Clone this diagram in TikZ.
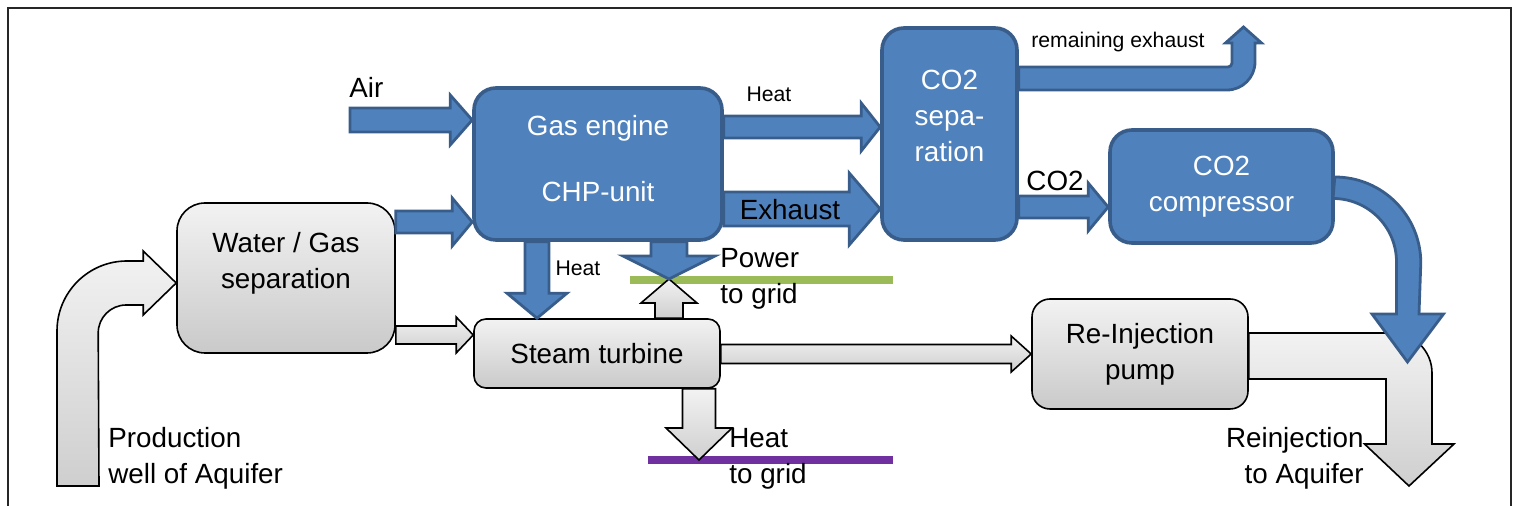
\documentclass[tikz,border=0pt]{standalone}
\usepackage{fontspec}
\setmainfont{Liberation Sans}
\usetikzlibrary{calc}
\definecolor{boxblue}{HTML}{4F81BD}
\definecolor{edgeblue}{HTML}{385D8A}
\definecolor{powergreen}{HTML}{9BBB59}
\definecolor{heatpurple}{HTML}{7030A0}
\newcommand{\mainsize}{\fontsize{13.9}{18}\selectfont}
\newcommand{\labelsize}{\fontsize{10.6}{13}\selectfont}
% block arrows: style, start, tip, half shaft, half head, head length
\newcommand{\rblock}[6]{%
  \path[#1] ($#2+(0,-#4)$) -- ($#3+(-#6,-#4)$) -- ($#3+(-#6,-#5)$) -- #3
    -- ($#3+(-#6,#5)$) -- ($#3+(-#6,#4)$) -- ($#2+(0,#4)$) -- cycle;}
\newcommand{\dblock}[6]{%
  \path[#1] ($#2+(-#4,0)$) -- ($#3+(-#4,-#6)$) -- ($#3+(-#5,-#6)$) -- #3
    -- ($#3+(#5,-#6)$) -- ($#3+(#4,-#6)$) -- ($#2+(#4,0)$) -- cycle;}
\newcommand{\ublock}[6]{%
  \path[#1] ($#2+(-#4,0)$) -- ($#3+(-#4,#6)$) -- ($#3+(-#5,#6)$) -- #3
    -- ($#3+(#5,#6)$) -- ($#3+(#4,#6)$) -- ($#2+(#4,0)$) -- cycle;}
\tikzset{
  bluebox/.style={draw=edgeblue, fill=boxblue, line width=1.8pt, rounded corners=11pt,
    text=white, align=center, font=\mainsize, inner sep=0pt},
  graybox/.style={draw=black, line width=0.8pt, top color=gray!10, bottom color=gray!42,
    rounded corners=12pt, align=center, font=\mainsize, inner sep=0pt},
  bluearrow/.style={draw=edgeblue, fill=boxblue, line width=1.4pt},
  grayarrow/.style={draw=black, line width=0.8pt, top color=gray!10, bottom color=gray!38},
  gridline/.style={line width=4pt},
  txt/.style={font=\mainsize, align=left, inner sep=0pt},
  smalltxt/.style={font=\labelsize, inner sep=0pt},
}
\begin{document}
\begin{tikzpicture}[x=0.5pt, y=-0.5pt]
  \useasboundingbox (0,0) rectangle (1516,506);
  \draw[line width=1pt, black!85] (8,506) -- (8,8) -- (1511,8) -- (1511,506);

  % units
  \node[bluebox, minimum width=124pt, minimum height=76pt] (gas) at (598,164) {Gas engine\\[15pt]CHP-unit\\[-12.5pt]~};
  \node[bluebox, minimum width=67.5pt, minimum height=106pt] (co2sep) at (949.5,134) {CO2\\sepa-\\ration\\~};
  \node[bluebox, minimum width=111.5pt, minimum height=56.5pt] (comp) at (1221.5,186.5) {CO2\\compressor};
  \node[graybox, minimum width=109pt, minimum height=75pt, rounded corners=14pt] (wgsep) at (286,278) {Water / Gas\\separation\\~};
  \node[graybox, minimum width=123pt, minimum height=34.5pt, rounded corners=6pt] (turb) at (597,353.5) {Steam turbine};
  \node[graybox, minimum width=108pt, minimum height=55pt, rounded corners=9pt] (pump) at (1140,354) {Re-Injection\\pump};

  % lanes
  \coordinate (air) at (350,120);
  \coordinate (fuel) at (0,222);
  \coordinate (heat) at (0,127);
  \coordinate (exh) at (0,209);
  \coordinate (co2) at (0,207);
  \coordinate (exit) at (0,78.5);
  \coordinate (co2out) at (0,188.5);
  \coordinate (steam) at (0,335);
  \coordinate (brine) at (0,354);
  \coordinate (prodin) at (0,283);
  \coordinate (pumpout) at (0,356);
  \coordinate (heatlane) at (537,0);
  \coordinate (power) at (669,279);
  \coordinate (heatgrid) at (699,460);
  \coordinate (prodwell) at (78,486);
  \coordinate (reinj) at (1409,486);
  \coordinate (stack) at (1243.5,27);
  \coordinate (co2inj) at (1407.5,362);

  % grid lines
  \coordinate (pg1) at (630,280);
  \coordinate (pg2) at (893,280);
  \coordinate (hg1) at (648,460);
  \coordinate (hg2) at (893,460);
  \draw[gridline, powergreen] (pg1) -- (pg2);
  \draw[gridline, heatpurple] (hg1) -- (hg2);

  % water side
  \path[grayarrow] ($(prodwell)+(-21,0)$) -- ++(0,-155) arc[start angle=180, end angle=270, radius=70]
    -- ($(wgsep.west |- prodin)+(-33,-22)$) -- ++(0,-10) -- (wgsep.west |- prodin) -- ++(-33,32)
    -- ++(0,-10) -- ++(-17,0) arc[start angle=270, end angle=180, radius=28]
    -- ($(prodwell)+(21,0)$) -- cycle;
  \rblock{grayarrow}{(wgsep.east |- steam)}{(turb.west |- steam)}{9}{18}{17}
  \rblock{grayarrow}{(turb.east |- brine)}{(pump.west |- brine)}{9.5}{18}{20}
  \path[grayarrow] ($(pump.east |- pumpout)+(0,-23)$) -- ($(reinj |- pumpout)+(-17,-23)$)
    arc[start angle=-90, end angle=0, radius=40] -- ($(reinj)+(23,-42)$) -- ++(22,0) -- (reinj)
    -- ++(-44.5,-42) -- ++(21.5,0) |- ($(pump.east |- pumpout)+(0,23)$) -- cycle;
  \ublock{grayarrow}{(turb.north -| power)}{(power)}{14}{28}{24}
  \dblock{grayarrow}{(turb.south -| heatgrid)}{(heatgrid)}{16.5}{33}{32}

  % gas side
  \rblock{bluearrow}{(air)}{(gas.west |- air)}{12}{25}{22}
  \rblock{bluearrow}{(wgsep.east |- fuel)}{(gas.west |- fuel)}{11}{24}{20}
  \rblock{bluearrow}{(gas.east |- heat)}{(co2sep.west |- heat)}{11}{24}{19}
  \rblock{bluearrow}{(gas.east |- exh)}{(co2sep.west |- exh)}{17}{36}{31}
  \rblock{bluearrow}{(co2sep.east |- co2)}{(comp.west |- co2)}{11}{24}{20}
  \dblock{bluearrow}{(gas.south -| heatlane)}{(turb.north -| heatlane)}{12}{30}{25}
  \dblock{bluearrow}{(gas.south -| power)}{(power)}{18}{46}{23}
  \path[bluearrow] ($(co2sep.east |- exit)+(0,-11.5)$) -- ($(stack |- exit)+(-15.5,-11.5)$)
    arc[start angle=90, end angle=0, radius=4] -- ($(stack)+(-11.5,16)$) -- ++(-6.5,0) -- (stack)
    -- ++(18,16) -- ++(-6.5,0) -- ($(stack |- exit)+(11.5,-16.5)$)
    arc[start angle=0, end angle=90, radius=28] -- ($(co2sep.east |- exit)+(0,11.5)$) -- cycle;
  \path[bluearrow] ($(comp.east |- co2out)+(0,-11.5)$) arc[start angle=-90, end angle=0, radius=86]
    -- ($(co2inj)+(11.5,-48)$) -- ++(24.5,0) -- (co2inj) -- ++(-35.5,-48) -- ++(24.5,0)
    -- ++(0,-52) arc[start angle=0, end angle=-90, radius=63.5] -- cycle;

  % labels
  \node[txt, anchor=west] (airlbl) at (349,87) {Air};
  \node[smalltxt] (heatlbl) at (769,94) {Heat};
  \node[txt] (exhlbl) at (790,210) {Exhaust};
  \node[txt] (co2lbl) at (1055,181) {CO2};
  \node[smalltxt] (remlbl) at (1118,42) {remaining exhaust};
  \node[smalltxt] (steamheatlbl) at (578,268) {Heat};
  \node[txt, anchor=west] (powerlbl) at (720,279) {Power\\to grid};
  \node[txt, anchor=west] (heatgridlbl) at (729,459) {Heat\\to grid};
  \node[txt, anchor=west] (prodlbl) at (108,458) {Production\\well of Aquifer};
  \node[txt, anchor=east, align=right] (reinjlbl) at (1364,458) {Reinjection\\to Aquifer};
\end{tikzpicture}
\end{document}
